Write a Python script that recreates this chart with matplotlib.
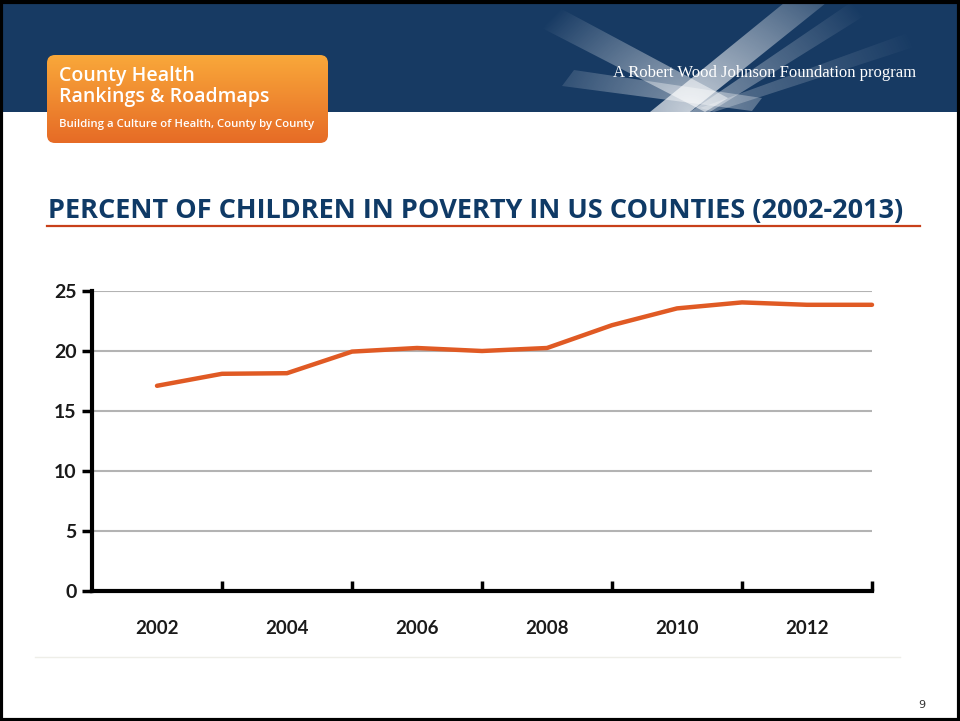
import numpy as np
import matplotlib
matplotlib.use("Agg")
import matplotlib.pyplot as plt
from matplotlib.patches import Rectangle, FancyBboxPatch, Polygon

years = [2002, 2003, 2004, 2005, 2006, 2007, 2008, 2009, 2010, 2011, 2012, 2013]
pct_poverty = [17.1, 18.1, 18.15, 19.95, 20.25, 20.0, 20.25, 22.15, 23.55, 24.05, 23.85, 23.85]
y_ticks = [0, 5, 10, 15, 20, 25]
x_label_years = [2002, 2004, 2006, 2008, 2010, 2012]
x_tick_years = [2003, 2005, 2007, 2009, 2011, 2013]

title = "PERCENT OF CHILDREN IN POVERTY IN US COUNTIES (2002-2013)"

W, H = 960, 721
fig = plt.figure(figsize=(9.6, 7.21), dpi=100)
fig.patch.set_facecolor("white")

# background overlay in pixel coordinates
bg = fig.add_axes([0, 0, 1, 1], zorder=0)
bg.set_xlim(0, W)
bg.set_ylim(H, 0)
bg.axis("off")

navy = "#173a63"
bg.add_patch(Rectangle((2, 2), W - 4, 110, facecolor=navy, edgecolor="none"))

# light beams: white with alpha fading away from the convergence point
cx, cy = 690.0, 112.0
gx0, gx1, gy0, gy1 = 500, 960, 2, 112
xx, yy = np.meshgrid(np.linspace(gx0, gx1, 460), np.linspace(gy0, gy1, 110))
dist = np.hypot(xx - cx, (yy - cy) * 1.2)
beams = [
    ([(650, 112), (690, 112), (826, 3), (784, 3)], 0.75, 230),
    ([(690, 112), (710, 112), (885, 3), (850, 3)], 0.45, 210),
    ([(538, 26), (556, 6), (728, 98), (705, 112)], 0.60, 180),
    ([(562, 86), (574, 70), (762, 98), (752, 111)], 0.45, 170),
    ([(700, 108), (714, 112), (948, 36), (938, 22)], 0.30, 240),
]
for pts, amax, scale in beams:
    poly = Polygon(pts, closed=True, facecolor="none", edgecolor="none")
    bg.add_patch(poly)
    alpha = amax * np.clip(1 - dist / scale, 0.0, 1.0) ** 0.9
    rgba = np.ones(xx.shape + (4,))
    rgba[..., 3] = alpha
    im = bg.imshow(rgba, extent=(gx0, gx1, gy1, gy0), aspect="auto", zorder=1,
                   interpolation="bilinear")
    im.set_clip_path(poly)

bg.text(613, 73, "A Robert Wood Johnson Foundation program", color="white",
        fontsize=12, family="Liberation Serif", va="center", ha="left", zorder=3)

# orange logo box with gradient
box = FancyBboxPatch((47, 55), 281, 88, boxstyle="round,pad=0,rounding_size=8",
                     facecolor="none", edgecolor="none")
bg.add_patch(box)
grad = np.linspace(0, 1, 256).reshape(-1, 1)
top_c = np.array([0xF9, 0xA8, 0x3A]) / 255
bot_c = np.array([0xE6, 0x6B, 0x26]) / 255
img = top_c[None, None, :] * (1 - grad[..., None]) + bot_c[None, None, :] * grad[..., None]
im = bg.imshow(img, extent=(47, 328, 143, 55), aspect="auto", zorder=1)
im.set_clip_path(box)
bg.text(59, 76, "County Health", color="white", fontsize=14, family="Open Sans",
        fontweight="semibold", va="center", ha="left", zorder=2)
bg.text(59, 97, "Rankings & Roadmaps", color="white", fontsize=14, family="Open Sans",
        fontweight="semibold", va="center", ha="left", zorder=2)
bg.text(59, 124, "Building a Culture of Health, County by County", color="white",
        fontsize=8.2, family="Open Sans", fontweight="semibold", va="center", ha="left", zorder=2)

# title
bg.text(48, 211, title, color="#0f3a66", fontsize=19.5, family="Open Sans",
        fontweight="bold", va="center", ha="left")
bg.plot([47, 920], [226, 226], color="#c8401a", lw=1.6)

# faint baseline & page number
bg.plot([35, 900], [657, 657], color="#eeeee8", lw=1)
bg.text(922, 705, "9", fontsize=8, color="#333333", family="DejaVu Sans", va="center", ha="center")

# frame
for spine_pts in ([(0, 1.5), (W, 1.5)], [(0, H - 1), (W, H - 1)], [(1, 0), (1, H)], [(W - 1, 0), (W - 1, H)]):
    xs, ys = zip(*spine_pts)
    bg.plot(xs, ys, color="black", lw=3)

# chart axes
ax = fig.add_axes([92 / W, 1 - 591 / H, 780 / W, 300 / H], zorder=2)
ax.patch.set_alpha(0)
ax.plot(years, pct_poverty, color="#e05a24", lw=3.2, solid_capstyle="round", clip_on=False, zorder=3)
ax.set_xlim(2001, 2013)
ax.set_ylim(0, 25)
ax.set_yticks(y_ticks)
ax.set_yticklabels([str(v) for v in y_ticks])
ax.set_xticks(x_tick_years)
ax.set_xticklabels([])
ax.set_xticks(x_label_years, minor=True)
ax.set_xticklabels([str(v) for v in x_label_years], minor=True)
ax.tick_params(axis="x", which="major", direction="in", length=7, width=2.5, color="black")
ax.tick_params(axis="x", which="minor", length=0, pad=21, labelsize=13.5)
ax.tick_params(axis="y", direction="out", length=7, width=2.5, color="black", pad=4, labelsize=14)
for lab in ax.get_xticklabels(minor=True) + ax.get_yticklabels():
    lab.set_fontweight("bold")
    lab.set_family("Lato")
    lab.set_color("#1a1a1a")
for v in y_ticks[1:]:
    ax.axhline(v, color="#b3b3b3", lw=1.5, zorder=1)
ax.spines["top"].set_visible(False)
ax.spines["right"].set_visible(False)
ax.spines["left"].set_linewidth(3)
ax.spines["bottom"].set_linewidth(3)
ax.spines["left"].set_zorder(4)
ax.spines["bottom"].set_zorder(4)

fig.savefig("out.png", dpi=100, facecolor="white")
